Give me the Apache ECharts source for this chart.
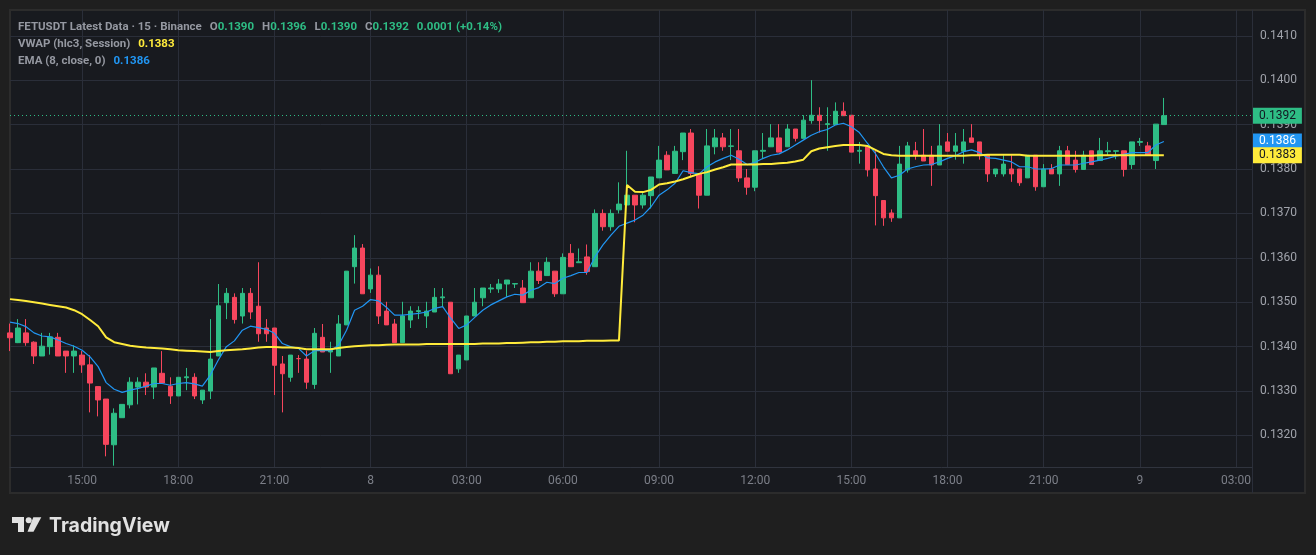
<!DOCTYPE html>
<html><head><meta charset="utf-8">
<script src="https://cdn.jsdelivr.net/npm/echarts@6/dist/echarts.min.js"></script>
<style>html,body{margin:0;padding:0;background:#1f1f1f;}#c{width:1316px;height:555px;}</style>
</head><body><div id="c"></div>
<script>
// ---- time slots (15-min bars, 7th 12:45 -> 9th 00:45, plus empty future slots) ----
const startDay = 7, startMinutes = 12 * 60 + 45, barMinutes = 15, totalSlots = 156;
const categories = [];
for (let i = 0; i < totalSlots; i++) {
  const m = startMinutes + i * barMinutes;
  const day = startDay + Math.floor(m / 1440);
  const mm = m % 1440, h = Math.floor(mm / 60), mi = mm % 60;
  categories.push(mm === 0 ? String(day) : String(h).padStart(2, '0') + ':' + String(mi).padStart(2, '0'));
}
const tickLabels = ['15:00','18:00','21:00','8','03:00','06:00','09:00','12:00','15:00','18:00','21:00','9','03:00'];
const yTicks = [0.1320,0.1330,0.1340,0.1350,0.1360,0.1370,0.1380,0.1390,0.1400,0.1410];
const yMin = 0.13129, yMax = 0.14158;

const open = [
0.13431,0.13409,0.13431,0.13410,0.13379,0.13400,0.13421,0.13390,0.13379,0.13381,
0.13359,0.13310,0.13282,0.13179,0.13240,0.13269,0.13309,0.13320,0.13309,0.13340,
0.13311,0.13289,0.13330,0.13331,0.13280,0.13300,0.13379,0.13499,0.13511,0.13469,
0.13520,0.13491,0.13442,0.13442,0.13361,0.13331,0.13373,0.13372,0.13315,0.13421,
0.13388,0.13379,0.13449,0.13580,0.13622,0.13530,0.13561,0.13480,0.13451,0.13409,
0.13460,0.13479,0.13469,0.13478,0.13510,0.13500,0.13350,0.13370,0.13469,0.13510,
0.13530,0.13530,0.13541,0.13541,0.13532,0.13510,0.13570,0.13560,0.13570,0.13519,
0.13610,0.13589,0.13602,0.13580,0.13700,0.13670,0.13708,0.13719,0.13741,0.13719,
0.13740,0.13780,0.13831,0.13790,0.13839,0.13881,0.13790,0.13741,0.13850,0.13870,
0.13851,0.13841,0.13780,0.13759,0.13840,0.13850,0.13870,0.13850,0.13890,0.13869,
0.13909,0.13921,0.13900,0.13900,0.13930,0.13921,0.13840,0.13850,0.13800,0.13729,
0.13701,0.13690,0.13798,0.13841,0.13831,0.13831,0.13809,0.13861,0.13840,0.13840,
0.13870,0.13861,0.13831,0.13789,0.13789,0.13800,0.13800,0.13780,0.13831,0.13760,
0.13800,0.13789,0.13841,0.13820,0.13799,0.13841,0.13819,0.13839,0.13840,0.13841,
0.13810,0.13860,0.13852,0.13819,0.13900];
const close = [
0.13420,0.13442,0.13409,0.13379,0.13401,0.13422,0.13379,0.13379,0.13390,0.13359,
0.13318,0.13280,0.13180,0.13250,0.13270,0.13320,0.13320,0.13309,0.13352,0.13318,
0.13289,0.13331,0.13332,0.13289,0.13302,0.13372,0.13492,0.13520,0.13461,0.13520,
0.13478,0.13429,0.13429,0.13358,0.13339,0.13381,0.13373,0.13320,0.13430,0.13388,
0.13392,0.13451,0.13570,0.13622,0.13519,0.13561,0.13469,0.13449,0.13409,0.13469,
0.13480,0.13481,0.13480,0.13511,0.13512,0.13339,0.13381,0.13469,0.13500,0.13532,
0.13532,0.13541,0.13550,0.13542,0.13499,0.13570,0.13549,0.13590,0.13519,0.13601,
0.13580,0.13591,0.13569,0.13700,0.13670,0.13700,0.13721,0.13741,0.13719,0.13741,
0.13782,0.13820,0.13798,0.13840,0.13881,0.13790,0.13741,0.13852,0.13870,0.13850,
0.13852,0.13780,0.13759,0.13841,0.13842,0.13870,0.13838,0.13890,0.13869,0.13910,
0.13921,0.13909,0.13902,0.13930,0.13920,0.13838,0.13842,0.13798,0.13740,0.13690,
0.13690,0.13811,0.13852,0.13830,0.13818,0.13809,0.13852,0.13840,0.13852,0.13861,
0.13860,0.13830,0.13789,0.13800,0.13811,0.13789,0.13769,0.13831,0.13760,0.13800,
0.13789,0.13841,0.13810,0.13799,0.13831,0.13810,0.13841,0.13841,0.13841,0.13799,
0.13861,0.13862,0.13831,0.13901,0.13920];
const low = [
0.13390,0.13408,0.13402,0.13361,0.13379,0.13382,0.13379,0.13341,0.13341,0.13341,
0.13252,0.13243,0.13153,0.13132,0.13240,0.13261,0.13270,0.13291,0.13282,0.13318,
0.13271,0.13289,0.13302,0.13282,0.13271,0.13282,0.13379,0.13462,0.13452,0.13452,
0.13462,0.13411,0.13411,0.13291,0.13252,0.13321,0.13341,0.13305,0.13305,0.13388,
0.13341,0.13379,0.13449,0.13542,0.13519,0.13521,0.13451,0.13449,0.13409,0.13409,
0.13442,0.13462,0.13442,0.13478,0.13489,0.13339,0.13341,0.13370,0.13469,0.13491,
0.13521,0.13521,0.13512,0.13532,0.13499,0.13510,0.13541,0.13560,0.13512,0.13519,
0.13580,0.13589,0.13562,0.13580,0.13661,0.13661,0.13700,0.13719,0.13680,0.13711,
0.13711,0.13780,0.13798,0.13790,0.13820,0.13783,0.13711,0.13741,0.13833,0.13841,
0.13820,0.13771,0.13742,0.13750,0.13822,0.13850,0.13838,0.13850,0.13862,0.13869,
0.13902,0.13882,0.13841,0.13900,0.13920,0.13838,0.13812,0.13783,0.13673,0.13672,
0.13681,0.13690,0.13792,0.13821,0.13818,0.13762,0.13809,0.13840,0.13821,0.13812,
0.13860,0.13821,0.13771,0.13782,0.13783,0.13771,0.13762,0.13780,0.13751,0.13760,
0.13789,0.13762,0.13810,0.13792,0.13799,0.13810,0.13819,0.13831,0.13822,0.13783,
0.13800,0.13852,0.13831,0.13800,0.13900];
const high = [
0.13452,0.13462,0.13462,0.13412,0.13431,0.13431,0.13431,0.13390,0.13403,0.13390,
0.13381,0.13310,0.13282,0.13261,0.13270,0.13331,0.13331,0.13340,0.13352,0.13390,
0.13331,0.13331,0.13352,0.13340,0.13302,0.13462,0.13541,0.13532,0.13520,0.13532,
0.13532,0.13590,0.13462,0.13442,0.13379,0.13381,0.13381,0.13391,0.13442,0.13451,
0.13411,0.13471,0.13570,0.13651,0.13631,0.13576,0.13581,0.13501,0.13462,0.13501,
0.13491,0.13491,0.13501,0.13532,0.13532,0.13500,0.13381,0.13469,0.13532,0.13532,
0.13541,0.13552,0.13550,0.13542,0.13550,0.13590,0.13590,0.13601,0.13570,0.13610,
0.13631,0.13621,0.13630,0.13709,0.13709,0.13709,0.13770,0.13841,0.13741,0.13750,
0.13782,0.13852,0.13840,0.13852,0.13881,0.13890,0.13790,0.13890,0.13890,0.13881,
0.13890,0.13890,0.13800,0.13841,0.13881,0.13901,0.13901,0.13901,0.13890,0.13921,
0.14000,0.13939,0.13939,0.13950,0.13950,0.13921,0.13861,0.13850,0.13840,0.13729,
0.13709,0.13852,0.13861,0.13861,0.13890,0.13852,0.13901,0.13881,0.13881,0.13890,
0.13901,0.13861,0.13831,0.13800,0.13831,0.13831,0.13800,0.13831,0.13831,0.13811,
0.13811,0.13852,0.13852,0.13841,0.13841,0.13841,0.13870,0.13861,0.13841,0.13841,
0.13861,0.13870,0.13861,0.13901,0.13960];
const vwap = [
0.13507,0.13505,0.13503,0.13500,0.13497,0.13494,0.13491,0.13488,0.13482,0.13473,
0.13460,0.13446,0.13421,0.13410,0.13406,0.13402,0.13400,0.13398,0.13397,0.13396,
0.13394,0.13392,0.13391,0.13390,0.13389,0.13388,0.13390,0.13392,0.13393,0.13394,
0.13396,0.13398,0.13399,0.13399,0.13398,0.13398,0.13397,0.13394,0.13394,0.13394,
0.13394,0.13397,0.13399,0.13401,0.13402,0.13403,0.13403,0.13404,0.13405,0.13405,
0.13405,0.13405,0.13406,0.13406,0.13406,0.13406,0.13406,0.13406,0.13406,0.13407,
0.13407,0.13407,0.13408,0.13408,0.13409,0.13410,0.13410,0.13411,0.13411,0.13412,
0.13412,0.13412,0.13413,0.13413,0.13413,0.13414,0.13414,
0.13764,0.13749,0.13748,
0.13753,0.13765,0.13768,0.13772,0.13777,0.13783,0.13789,0.13793,0.13799,0.13804,
0.13810,0.13810,0.13810,0.13810,0.13811,0.13811,0.13813,0.13814,0.13817,0.13821,
0.13840,0.13846,0.13849,0.13852,0.13854,0.13854,0.13854,0.13852,0.13843,0.13834,
0.13831,0.13830,0.13830,0.13830,0.13830,0.13830,0.13830,0.13830,0.13830,0.13830,
0.13831,0.13831,0.13832,0.13832,0.13832,0.13832,0.13832,0.13830,0.13830,0.13830,
0.13830,0.13830,0.13830,0.13830,0.13830,0.13830,0.13831,0.13831,0.13831,0.13831,
0.13831,0.13831,0.13831,0.13831,0.13831];
const ema = [
0.13455,0.13452,0.13445,0.13431,0.13424,0.13422,0.13415,0.13407,0.13401,0.13392,
0.13377,0.13355,0.13319,0.13304,0.13297,0.13302,0.13306,0.13311,0.13317,0.13317,
0.13313,0.13317,0.13319,0.13316,0.13311,0.13336,0.13370,0.13400,0.13413,0.13437,
0.13446,0.13443,0.13439,0.13430,0.13407,0.13400,0.13396,0.13379,0.13391,0.13391,
0.13391,0.13403,0.13437,0.13482,0.13491,0.13506,0.13503,0.13488,0.13471,0.13471,
0.13473,0.13475,0.13478,0.13486,0.13490,0.13464,0.13441,0.13449,0.13466,0.13482,
0.13494,0.13503,0.13512,0.13518,0.13516,0.13527,0.13533,0.13545,0.13542,0.13554,
0.13560,0.13567,0.13567,0.13602,0.13629,0.13651,0.13671,0.13678,0.13685,0.13696,
0.13715,0.13741,0.13753,0.13768,0.13796,0.13792,0.13789,0.13805,0.13816,0.13824,
0.13831,0.13822,0.13810,0.13815,0.13824,0.13831,0.13834,0.13843,0.13854,0.13865,
0.13876,0.13884,0.13889,0.13899,0.13903,0.13895,0.13882,0.13858,0.13835,0.13805,
0.13780,0.13786,0.13800,0.13805,0.13809,0.13810,0.13816,0.13824,0.13830,0.13839,
0.13843,0.13837,0.13825,0.13824,0.13820,0.13816,0.13805,0.13805,0.13800,0.13800,
0.13801,0.13809,0.13809,0.13809,0.13813,0.13816,0.13820,0.13824,0.13829,0.13833,
0.13837,0.13837,0.13837,0.13854,0.13862];

const UP = '#2ebd85', DOWN = '#f6465d', VWAPC = '#ffeb3b', EMAC = '#2196f3';
const GRIDC = '#2a2e39', TXT = '#9598a1';
const FONT = 'Roboto, "Noto Sans", sans-serif';
const HFS = 11.5;
const n = open.length;
const lastClose = close[n - 1], lastEma = ema[n - 1], lastVwap = vwap[n - 1];

const isTick = (idx, val) => {
  if (/^\d+$/.test(val)) return true;
  const p = val.split(':').map(Number);
  return p[1] === 0 && p[0] % 3 === 0;
};

const chart = echarts.init(document.getElementById('c'), null, { renderer: 'canvas' });
const markerAxis = (value, bg, fg) => ({
  type: 'value', min: yMin, max: yMax, position: 'right',
  axisLine: { show: false }, splitLine: { show: false },
  axisTick: { show: false, customValues: [value] },
  axisLabel: { customValues: [value], showMinLabel: true, showMaxLabel: true, margin: 1,
    formatter: v => v.toFixed(4), color: fg, backgroundColor: bg, fontSize: 12, lineHeight: 12,
    padding: [2, 6, 2, 6], fontFamily: FONT }
});

chart.setOption({
  animation: false,
  backgroundColor: '#1f1f1f',
  textStyle: { fontFamily: FONT },
  title: [
    { left: 18, top: 20, padding: 0,
      text: '{a|FETUSDT Latest Data · 15 · Binance}{o|O}{v|0.1390}{o|H}{v|0.1396}{o|L}{v|0.1390}{o|C}{v|0.1392}{w|0.0001 (+0.14%)}',
      textStyle: { fontSize: HFS, lineHeight: 14, rich: {
        a: { color: TXT, fontSize: HFS, fontFamily: FONT },
        o: { color: TXT, fontSize: HFS, fontFamily: FONT, padding: [0, 0, 0, 8] },
        v: { color: UP, fontSize: HFS, fontFamily: FONT },
        w: { color: UP, fontSize: HFS, fontFamily: FONT, padding: [0, 0, 0, 8] } } } },
    { left: 18, top: 37, padding: 0,
      text: '{a|VWAP (hlc3, Session)}{y|0.1383}',
      textStyle: { fontSize: HFS, lineHeight: 14, rich: {
        a: { color: TXT, fontSize: HFS, fontFamily: FONT },
        y: { color: VWAPC, fontSize: HFS, fontWeight: 'bold', fontFamily: FONT, padding: [0, 0, 0, 8] } } } },
    { left: 18, top: 54, padding: 0,
      text: '{a|EMA (8, close, 0)}{b|0.1386}',
      textStyle: { fontSize: HFS, lineHeight: 14, rich: {
        a: { color: TXT, fontSize: HFS, fontFamily: FONT },
        b: { color: EMAC, fontSize: HFS, fontFamily: FONT, padding: [0, 0, 0, 8] } } } },
    { left: 49, top: 515, padding: 0, text: 'TradingView',
      textStyle: { color: '#e1e1e1', fontSize: 19.5, fontWeight: 'bold', fontFamily: 'Inter, Lato, sans-serif', lineHeight: 22 } }
  ],
  graphic: [
    { type: 'rect', z: -10, shape: { x: 10, y: 10, width: 1295, height: 483 },
      style: { fill: '#181a1f', stroke: '#2c2c2c', lineWidth: 2 } },
    { type: 'line', z: -5, shape: { x1: 1252.5, y1: 10, x2: 1252.5, y2: 493 }, style: { stroke: GRIDC, lineWidth: 1 } },
    { type: 'rect', shape: { x: 12, y: 517, width: 12, height: 6 }, style: { fill: '#e1e1e1' } },
    { type: 'rect', shape: { x: 18, y: 517, width: 6, height: 15 }, style: { fill: '#e1e1e1' } },
    { type: 'circle', shape: { cx: 28.7, cy: 520.3, r: 3 }, style: { fill: '#e1e1e1' } },
    { type: 'polygon', shape: { points: [[33.3, 517.3], [41.3, 517.3], [33.5, 531.7], [27.5, 531.7]] }, style: { fill: '#e1e1e1' } }
  ],
  grid: { left: 10, top: 10, width: 1242, height: 457, containLabel: false },
  xAxis: {
    type: 'category', data: categories, boundaryGap: false,
    axisLine: { show: true, lineStyle: { color: '#30343e' } },
    axisTick: { show: false },
    axisLabel: { interval: isTick, color: '#7c7f88', fontSize: 12, margin: 8, fontFamily: FONT,
      formatter: v => tickLabels.includes(v) ? v : v },
    splitLine: { show: true, interval: isTick, lineStyle: { color: GRIDC, width: 1 } }
  },
  yAxis: [
    { type: 'value', min: yMin, max: yMax, position: 'right',
      axisLine: { show: true, lineStyle: { color: GRIDC } },
      axisTick: { show: false, customValues: yTicks },
      axisLabel: { customValues: yTicks, showMinLabel: true, showMaxLabel: true,
        formatter: v => v.toFixed(4), color: '#a0a3ab', fontSize: 12, margin: 8, fontFamily: FONT },
      splitLine: { show: true, lineStyle: { color: GRIDC, width: 1 } } },
    markerAxis(lastEma, EMAC, '#ffffff'),
    markerAxis(lastVwap, VWAPC, '#131722'),
    markerAxis(lastClose, UP, '#131722')
  ],
  series: [
    { type: 'candlestick', name: 'FETUSDT', barWidth: 5, z: 2,
      data: open.map((o, i) => [o, close[i], low[i], high[i]]),
      itemStyle: { color: UP, color0: DOWN, borderColor: UP, borderColor0: DOWN, borderWidth: 1 } },
    { type: 'line', name: 'EMA', data: ema, showSymbol: false, z: 4,
      lineStyle: { color: EMAC, width: 1.2 }, itemStyle: { color: EMAC },
      markLine: { silent: true, precision: 5, symbol: ['none', 'none'], label: { show: false },
        lineStyle: { color: UP, type: [1, 3], width: 1 }, data: [{ yAxis: lastClose }] } },
    { type: 'line', name: 'VWAP', data: vwap, showSymbol: false, z: 5,
      lineStyle: { color: VWAPC, width: 2 }, itemStyle: { color: VWAPC } }
  ]
});
</script></body></html>
